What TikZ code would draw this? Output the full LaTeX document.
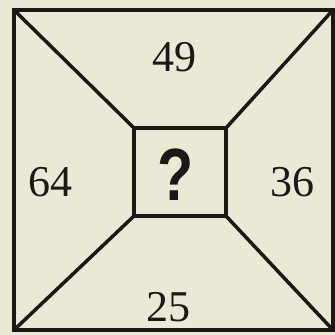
\documentclass[tikz,border=0pt]{standalone}
\usepackage{graphicx}
\usepackage{fontspec}
\setmainfont{Liberation Serif}
\newfontfamily\qfont{Liberation Sans}
\definecolor{paper}{RGB}{235,232,214}
\definecolor{ink}{RGB}{28,24,22}

\begin{document}
\begin{tikzpicture}[x=1pt,y=-1pt,line width=3.5pt,
    num/.style={font=\fontsize{44}{52}\selectfont,text=ink,inner sep=0pt},
    box/.style={draw=ink,minimum width=92pt,minimum height=88pt,inner sep=0pt,outer sep=0pt}]
        % Draw paper background
        \fill[paper] (0,0) rectangle (335,335);
        \useasboundingbox (0,0) rectangle (335,335);
        % Corners of the outer square
        \coordinate (tl) at (14,10);
        \coordinate (tr) at (333,10);
        \coordinate (bl) at (14,330);
        \coordinate (br) at (333,330);
        % Draw outer square
        \draw[ink] (tl) rectangle (br);
        % Draw inner square
        \node[box] (inner) at (180,172) {};
        % Draw diagonals to the inner square
        \draw[ink] (tl) -- (inner.north west);
        \draw[ink] (tr) -- (inner.north east);
        \draw[ink] (bl) -- (inner.south west);
        \draw[ink] (br) -- (inner.south east);
        % Numbers in the four parts
        \node[num] (top) at (174,57) {49};
        \node[num] (left) at (50,182) {64};
        \node[num] (right) at (292,182.5) {36};
        \node[num] (bottom) at (168.5,307) {25};
        % Question mark
        \node[font=\qfont\bfseries\fontsize{74}{84}\selectfont,text=ink,inner sep=0pt] (q) at (176,175) {\scalebox{0.8}[1]{?}};
    \end{tikzpicture}
\end{document}
